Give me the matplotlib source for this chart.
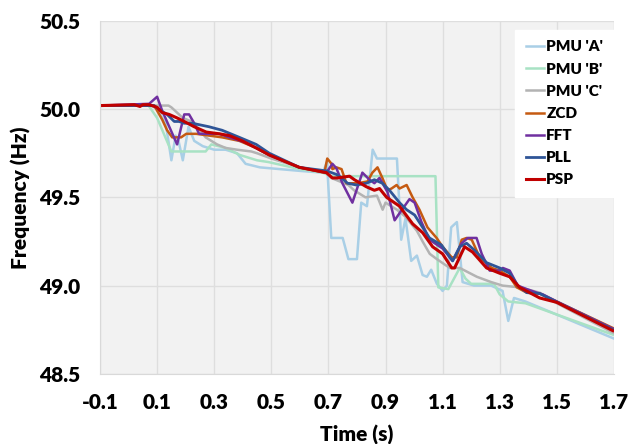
import matplotlib
matplotlib.use('Agg')
import matplotlib.pyplot as plt

plt.rcParams['font.family'] = ['Lato', 'DejaVu Sans']
plt.rcParams['font.weight'] = 'heavy'

# PMU 'A'
t_a = [-0.10, 0.08, 0.10, 0.13, 0.15, 0.165, 0.175, 0.19, 0.21, 0.23, 0.26, 0.30, 0.34, 0.38, 0.41,
       0.46, 0.60, 0.68, 0.695, 0.71, 0.75, 0.77, 0.80, 0.815, 0.835, 0.855, 0.87, 0.94, 0.955,
       0.97, 0.99, 1.01, 1.03, 1.045, 1.06, 1.08, 1.10, 1.115, 1.13, 1.15, 1.17, 1.21, 1.27, 1.31,
       1.33, 1.35, 1.39, 1.70]
f_a = [50.02, 50.02, 50.0, 49.92, 49.71, 49.85, 49.82, 49.71, 49.90, 49.82, 49.79, 49.77, 49.77, 49.75,
       49.69, 49.67, 49.65, 49.64, 49.70, 49.27, 49.27, 49.15, 49.15, 49.47, 49.45, 49.77, 49.72, 49.72,
       49.26, 49.38, 49.14, 49.17, 49.06, 49.05, 49.09, 49.01, 48.97, 49.0, 49.33, 49.36, 49.02, 49.0,
       49.0, 48.97, 48.80, 48.93, 48.91, 48.70]

# PMU 'B'
t_b = [-0.10, 0.07, 0.10, 0.15, 0.27, 0.29, 0.34, 0.39, 0.45, 0.49, 0.60, 0.68, 0.71, 1.075, 1.085,
       1.12, 1.16, 1.18, 1.20, 1.28, 1.30, 1.33, 1.39, 1.70]
f_b = [50.02, 50.02, 49.95, 49.76, 49.76, 49.80, 49.78, 49.74, 49.71, 49.70, 49.66, 49.64, 49.62, 49.62,
       48.99, 48.98, 49.10, 49.04, 49.01, 49.01, 48.95, 48.91, 48.90, 48.72]

# PMU 'C'
t_c = [-0.10, 0.10, 0.14, 0.15, 0.19, 0.22, 0.24, 0.27, 0.31, 0.34, 0.38, 0.43, 0.45, 0.50, 0.60,
       0.69, 0.71, 0.77, 0.79, 0.83, 0.87, 0.89, 0.90, 0.94, 0.97, 1.01, 1.03, 1.055, 1.08, 1.125,
       1.16, 1.22, 1.27, 1.31, 1.37, 1.44, 1.50, 1.70]
f_c = [50.02, 50.02, 50.02, 50.01, 49.95, 49.93, 49.90, 49.84, 49.80, 49.78, 49.77, 49.76, 49.75, 49.72,
       49.67, 49.64, 49.61, 49.57, 49.54, 49.50, 49.51, 49.43, 49.47, 49.43, 49.39, 49.31, 49.25, 49.18,
       49.15, 49.10, 49.10, 49.05, 49.02, 49.0, 48.99, 48.96, 48.90, 48.73]

# ZCD
t_zcd = [-0.10, 0.09, 0.118, 0.135, 0.153, 0.184, 0.202, 0.237, 0.282, 0.328, 0.388, 0.447, 0.493, 0.598,
         0.686, 0.696, 0.711, 0.714, 0.728, 0.746, 0.763, 0.802, 0.837, 0.854, 0.872, 0.889, 0.907, 0.921,
         0.939, 0.949, 0.974, 0.995, 1.019, 1.047, 1.079, 1.10, 1.132, 1.149, 1.167, 1.184, 1.202, 1.23,
         1.272, 1.30, 1.335, 1.36, 1.395, 1.44, 1.696]
f_zcd = [50.02, 50.02, 49.94, 49.88, 49.84, 49.84, 49.86, 49.86, 49.85, 49.84, 49.82, 49.78, 49.74, 49.67,
         49.64, 49.72, 49.69, 49.66, 49.67, 49.66, 49.58, 49.58, 49.59, 49.64, 49.67, 49.61, 49.54, 49.55,
         49.57, 49.55, 49.57, 49.50, 49.43, 49.33, 49.27, 49.22, 49.16, 49.16, 49.26, 49.27, 49.26, 49.16,
         49.10, 49.085, 49.05, 48.99, 48.96, 48.955, 48.76]

# FFT
t_fft = [-0.10, 0.072, 0.10, 0.118, 0.17, 0.195, 0.212, 0.23, 0.247, 0.282, 0.318, 0.353, 0.412, 0.493,
         0.598, 0.693, 0.714, 0.728, 0.749, 0.784, 0.819, 0.844, 0.861, 0.879, 0.907, 0.932, 0.949, 0.984,
         1.002, 1.026, 1.054, 1.10, 1.135, 1.167, 1.188, 1.219, 1.237, 1.265, 1.30, 1.311, 1.335, 1.363,
         1.395, 1.43, 1.451, 1.50, 1.696]
f_fft = [50.02, 50.03, 50.07, 49.99, 49.80, 49.97, 49.97, 49.92, 49.86, 49.86, 49.86, 49.84, 49.81, 49.74,
         49.67, 49.64, 49.69, 49.665, 49.58, 49.47, 49.64, 49.60, 49.58, 49.61, 49.53, 49.37, 49.41, 49.49,
         49.47, 49.36, 49.26, 49.21, 49.14, 49.24, 49.27, 49.27, 49.18, 49.085, 49.085, 49.10, 49.085, 49.0,
         48.98, 48.96, 48.95, 48.91, 48.756]

# PLL
t_pll = [-0.10, 0.089, 0.114, 0.135, 0.16, 0.177, 0.195, 0.223, 0.282, 0.328, 0.388, 0.447, 0.493, 0.598,
         0.693, 0.711, 0.728, 0.746, 0.767, 0.798, 0.833, 0.861, 0.889, 0.914, 0.949, 0.974, 1.002, 1.03,
         1.054, 1.096, 1.135, 1.16, 1.184, 1.212, 1.254, 1.30, 1.335, 1.363, 1.395, 1.44, 1.696]
f_pll = [50.02, 50.02, 49.99, 49.97, 49.93, 49.93, 49.92, 49.92, 49.90, 49.88, 49.84, 49.80, 49.75, 49.67,
         49.65, 49.64, 49.63, 49.61, 49.58, 49.57, 49.58, 49.60, 49.58, 49.54, 49.47, 49.43, 49.40, 49.33,
         49.27, 49.23, 49.14, 49.22, 49.24, 49.20, 49.13, 49.10, 49.07, 49.0, 48.96, 48.955, 48.75]

# PSP
t_psp = [-0.10, 0.02, 0.04, 0.05, 0.072, 0.10, 0.118, 0.142, 0.17, 0.195, 0.23, 0.272, 0.318, 0.353, 0.398,
         0.447, 0.493, 0.598, 0.693, 0.714, 0.732, 0.774, 0.791, 0.833, 0.861, 0.879, 0.904, 0.949, 0.995,
         1.03, 1.065, 1.10, 1.132, 1.142, 1.177, 1.205, 1.254, 1.30, 1.335, 1.37, 1.44, 1.50, 1.696]
f_psp = [50.02, 50.025, 50.015, 50.025, 50.025, 50.01, 49.98, 49.97, 49.95, 49.93, 49.90, 49.87, 49.86, 49.85,
         49.82, 49.78, 49.74, 49.67, 49.64, 49.61, 49.61, 49.62, 49.60, 49.56, 49.54, 49.55, 49.50, 49.45,
         49.35, 49.30, 49.22, 49.18, 49.10, 49.10, 49.22, 49.19, 49.10, 49.07, 49.05, 48.99, 48.93, 48.905,
         48.745]

fig = plt.figure(figsize=(6.29, 4.44), dpi=100)
ax = fig.add_axes([0.159, 0.158, 0.817, 0.795])
ax.set_facecolor('#f2f2f2')

ax.plot(t_a, f_a, c='#a9cfe6', lw=1.8, label="PMU 'A'")
ax.plot(t_b, f_b, c='#a8e2c4', lw=1.8, label="PMU 'B'")
ax.plot(t_c, f_c, c='#b3b3b3', lw=1.8, label="PMU 'C'")
ax.plot(t_zcd, f_zcd, c='#c55a11', lw=1.8, label='ZCD')
ax.plot(t_fft, f_fft, c='#7030a0', lw=1.8, label='FFT')
ax.plot(t_pll, f_pll, c='#2f5597', lw=2.0, label='PLL')
ax.plot(t_psp, f_psp, c='#c00000', lw=2.2, label='PSP')

ax.set_xlim(-0.1, 1.7)
ax.set_ylim(48.5, 50.5)
ax.set_xticks([-0.1, 0.1, 0.3, 0.5, 0.7, 0.9, 1.1, 1.3, 1.5, 1.7])
ax.set_yticks([48.5, 49.0, 49.5, 50.0, 50.5])
ax.set_xticklabels(['-0.1', '0.1', '0.3', '0.5', '0.7', '0.9', '1.1', '1.3', '1.5', '1.7'])
ax.set_yticklabels(['48.5', '49.0', '49.5', '50.0', '50.5'])
ax.grid(True, color='#dedede', lw=1.0)
ax.set_axisbelow(True)
for side in ['top', 'right']:
    ax.spines[side].set_visible(False)
for side in ['left', 'bottom']:
    ax.spines[side].set_color('#d9d9d9')
ax.tick_params(axis='both', length=0, labelsize=15)
ax.tick_params(axis='x', pad=14)
ax.tick_params(axis='y', pad=14)

ax.set_xlabel('Time (s)', fontsize=15, fontweight='heavy', labelpad=9)
ax.set_ylabel('Frequency (Hz)', fontsize=15, fontweight='heavy', labelpad=6)

leg = ax.legend(loc='upper right', bbox_to_anchor=(1.0, 0.975), fontsize=11, frameon=True,
                handlelength=1.2, handletextpad=0.15, labelspacing=0.6, borderpad=0.7,
                borderaxespad=0.0, fancybox=False)
leg.get_frame().set_facecolor('white')
leg.get_frame().set_edgecolor('white')
leg.get_frame().set_alpha(1.0)

fig.savefig('out.png', dpi=100)
